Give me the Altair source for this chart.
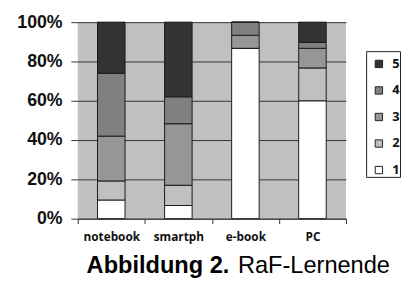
import altair as alt
import pandas as pd

categories = ["notebook", "smartph", "e-book", "PC"]
ratings = ["1", "2", "3", "4", "5"]
r1 = [9.5, 6.7, 86.7, 60.0]
r2 = [9.7, 10.3, 0.0, 16.7]
r3 = [22.8, 31.3, 6.6, 10.0]
r4 = [32.0, 13.7, 6.7, 3.0]
r5 = [26.0, 38.0, 0.0, 10.3]

series = [r1, r2, r3, r4, r5]
rows = []
for rating, vals in zip(ratings, series):
    for cat, v in zip(categories, vals):
        rows.append({"cat": cat, "rating": rating, "order": int(rating), "value": v})
df = pd.DataFrame(rows)

colors = ["#333333", "#808080", "#969696", "#c0c0c0", "#ffffff"]

bars = alt.Chart(df).mark_bar(stroke="#1a1a1a", strokeWidth=1, width=28).encode(
    x=alt.X("cat:N", sort=categories, title=None,
            scale=alt.Scale(paddingInner=0, paddingOuter=0),
            axis=alt.Axis(labelAngle=0, labelFont="Open Sans", labelFontWeight="bold",
                          labelFontSize=12, labelColor="#111", labelPadding=8,
                          tickBand="extent", tickSize=5, tickColor="#333",
                          domainColor="#333", grid=False)),
    y=alt.Y("value:Q", stack="normalize", title=None,
            scale=alt.Scale(domain=[0, 1]),
            axis=alt.Axis(format=".0%", values=[0, 0.2, 0.4, 0.6, 0.8, 1.0],
                          labelFont="Liberation Sans", labelFontWeight="bold",
                          labelFontSize=18, labelColor="#111", labelPadding=9,
                          tickSize=7, tickColor="#333", domain=False,
                          grid=True, gridColor="#333333", gridWidth=1)),
    color=alt.Color("rating:N", scale=alt.Scale(domain=["5", "4", "3", "2", "1"], range=colors),
                    legend=alt.Legend(title=None, orient="none", legendX=294, legendY=30,
                                      padding=6, symbolType="square",
                                      symbolSize=56, symbolStrokeColor="#222",
                                      symbolStrokeWidth=1, labelFontSize=13,
                                      labelOffset=7, labelLimit=20,
                                      labelFont="Open Sans", labelFontWeight="bold",
                                      labelColor="#111", rowPadding=13)),
    order=alt.Order("order:Q", sort="ascending"),
)

frame = pd.DataFrame({"k": [0]})
legend_box = alt.Chart(frame).mark_rect(fill="#ffffff", stroke="#222222", strokeWidth=1).encode(
    x=alt.value(294), x2=alt.value(328.5), y=alt.value(30), y2=alt.value(158))

cap = pd.DataFrame({"a": ["Abbildung 2."], "b": ["RaF-Lernende"]})
t1 = alt.Chart(cap).mark_text(align="left", baseline="alphabetic", font="Liberation Sans",
                              fontWeight="bold", fontSize=24, color="#000").encode(
    x=alt.value(9), y=alt.value(255), text="a:N")
t2 = alt.Chart(cap).mark_text(align="left", baseline="alphabetic", font="Liberation Sans",
                              fontSize=24, color="#000").encode(
    x=alt.value(163), y=alt.value(255), text="b:N")

chart = alt.layer(legend_box, bars, t1, t2).properties(
    width=273, height=200,
    autosize=alt.AutoSizeParams(type="none"),
    padding={"left": 71, "top": 12, "right": 56, "bottom": 60},
).configure_view(fill="#c0c0c0", stroke=None)

chart.save("out.html", embed_options={"renderer": "svg", "actions": False})
